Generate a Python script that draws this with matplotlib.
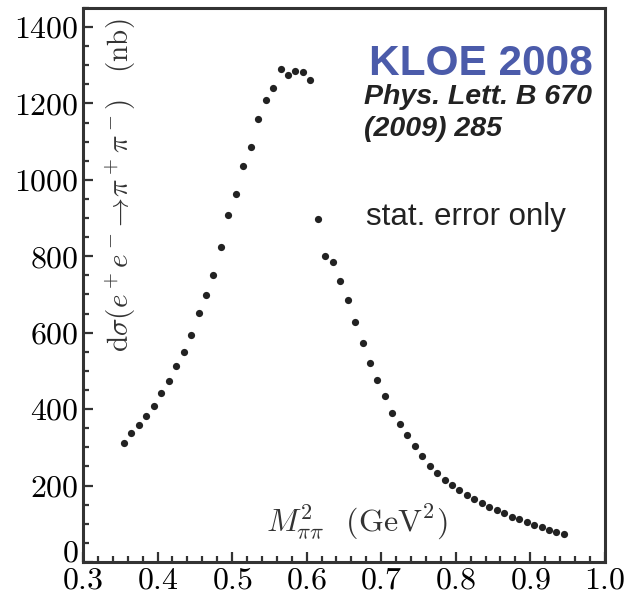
import matplotlib
matplotlib.use("Agg")
import matplotlib.pyplot as plt
from matplotlib.ticker import MultipleLocator

plt.rcParams['font.family'] = 'serif'
plt.rcParams['font.serif'] = ['cmr10']
plt.rcParams['mathtext.fontset'] = 'cm'
plt.rcParams['axes.formatter.use_mathtext'] = True

# bin centres (GeV^2) and cross section (nb)
m2 = [0.355, 0.365, 0.375, 0.385, 0.395, 0.405, 0.415, 0.425, 0.435, 0.445,
      0.455, 0.465, 0.475, 0.485, 0.495, 0.505, 0.515, 0.525, 0.535, 0.545,
      0.555, 0.565, 0.575, 0.585, 0.595, 0.605, 0.615, 0.625, 0.635, 0.645,
      0.655, 0.665, 0.675, 0.685, 0.695, 0.705, 0.715, 0.725, 0.735, 0.745,
      0.755, 0.765, 0.775, 0.785, 0.795, 0.805, 0.815, 0.825, 0.835, 0.845,
      0.855, 0.865, 0.875, 0.885, 0.895, 0.905, 0.915, 0.925, 0.935, 0.945]
dsigma = [311, 338, 359, 383, 408, 442, 474, 514, 550, 594,
          651, 698, 751, 825, 908, 963, 1035, 1085, 1159, 1209,
          1241, 1290, 1274, 1285, 1283, 1262, 898, 802, 785, 735,
          686, 628, 573, 521, 476, 435, 390, 361, 333, 304,
          278, 251, 232, 215, 202, 189, 176, 165, 155, 145,
          136, 128, 119, 112, 105, 96, 91, 84, 79, 74]
yticks = [0, 200, 400, 600, 800, 1000, 1200, 1400]

fig = plt.figure(figsize=(6.25, 5.99), dpi=100)
ax = fig.add_axes([0.1328, 0.0618, 0.835, 0.925])

ax.plot(m2, dsigma, 'o', color='#222222', markersize=5.2, markeredgewidth=0)

ax.set_xlim(0.3, 1.0)
ax.set_ylim(0, 1450)
ax.xaxis.set_major_locator(MultipleLocator(0.1))
ax.xaxis.set_minor_locator(MultipleLocator(0.02))
ax.set_yticks(yticks)
ax.yaxis.set_minor_locator(MultipleLocator(50))
ax.tick_params(which='both', direction='in', top=False, right=False,
               labelsize=23, color='#333333', width=1.6)
ax.tick_params(which='major', length=7)
ax.tick_params(which='minor', length=4)
ax.tick_params(axis='y', pad=3)
ax.tick_params(axis='x', pad=4)
# the "0" sits a bit above its tick, as in the original
ax.yaxis.get_major_ticks()[0].label1.set_verticalalignment('baseline')
for sp in ax.spines.values():
    sp.set_linewidth(2.2)
    sp.set_color('#333333')

ax.text(0.072, 0.68, r'$\mathrm{d}\sigma(e^+e^-\!\to\!\pi^+\pi^-)\quad$(nb)',
        transform=ax.transAxes, rotation=90, ha='center', va='center',
        fontsize=21, color='#333333')
ax.text(0.525, 0.072, r'$M^{2}_{\pi\pi}$  (GeV$^2$)', transform=ax.transAxes,
        ha='center', va='center', fontsize=23, color='#333333')

ax.text(0.548, 0.898, 'KLOE 2008', transform=ax.transAxes, fontsize=30.5,
        fontweight='bold', color='#4b5baa', family='Liberation Sans',
        ha='left', va='center')
ax.text(0.539, 0.839, 'Phys. Lett. B 670', transform=ax.transAxes, fontsize=20.5,
        fontweight='bold', fontstyle='italic', color='#222222',
        family='Liberation Sans', ha='left', va='center')
ax.text(0.539, 0.781, '(2009) 285', transform=ax.transAxes, fontsize=20.5,
        fontweight='bold', fontstyle='italic', color='#222222',
        family='Liberation Sans', ha='left', va='center')
ax.text(0.543, 0.622, 'stat. error only', transform=ax.transAxes, fontsize=22.5,
        color='#222222', family='Liberation Sans', ha='left', va='center')

fig.savefig('out.png', dpi=100)
